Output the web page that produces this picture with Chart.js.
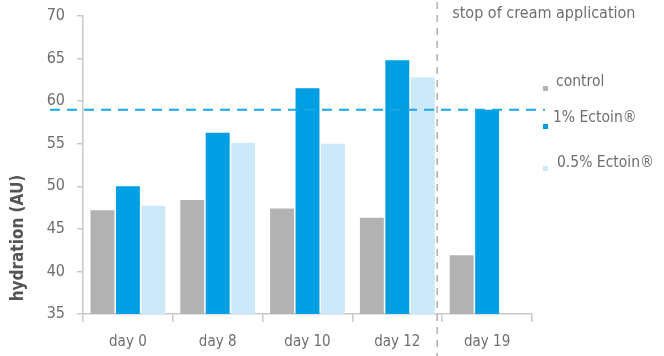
<!DOCTYPE html>
<html><head><meta charset="utf-8">
<script src="https://cdn.jsdelivr.net/npm/chart.js@4/dist/chart.umd.min.js"></script>
<style>html,body{margin:0;padding:0;background:#fff;}#wrap{width:664px;height:356px;}</style>
</head><body><div id="wrap"><canvas id="c" width="664" height="356"></canvas></div>
<script>
const categories = ["day 0", "day 8", "day 10", "day 12", "day 19"];
const controlValues = [47.2, 48.4, 47.4, 46.3, 41.9];
const ectoin1Values = [50.0, 56.3, 61.5, 64.8, 59.0];
const ectoin05Values = [47.7, 55.1, 55.0, 62.8, null];
const seriesNames = ["control", "1% Ectoin®", "0.5% Ectoin®"];
const yTicks = [35, 40, 45, 50, 55, 60, 65, 70];
const referenceLevel = 59;
const stopLabel = "stop of cream application";
const yTitle = "hydration (AU)";

const FONT = "'Liberation Sans Narrow', 'DejaVu Sans Condensed', 'Liberation Sans', sans-serif";
const colors = ["#b2b2b2", "#009fe3", "#cce9f9"];

const overlay = {
  id: "overlay",
  afterDraw(chart) {
    const ctx = chart.ctx, x = chart.scales.x, y = chart.scales.y;
    ctx.save();
    // horizontal dashed reference line
    const yl = y.getPixelForValue(referenceLevel);
    ctx.strokeStyle = "#1aa7e6"; ctx.lineWidth = 2; ctx.setLineDash([10, 7]);
    ctx.beginPath(); ctx.moveTo(50, yl); ctx.lineTo(545, yl); ctx.stroke();
    // vertical dashed line
    const xv = (x.getPixelForValue(3) + x.getPixelForValue(4)) / 2 - 5;
    ctx.strokeStyle = "#b0b0b0"; ctx.lineWidth = 1.5; ctx.setLineDash([7, 6]);
    ctx.beginPath(); ctx.moveTo(xv, 2); ctx.lineTo(xv, 356); ctx.stroke();
    ctx.setLineDash([]);
    // stop label
    ctx.fillStyle = "#6e6e6e"; ctx.font = "16px " + FONT;
    ctx.textBaseline = "middle"; ctx.textAlign = "left";
    ctx.fillText(stopLabel, xv + 15, 14);
    // legend
    ctx.font = "15.5px " + FONT;
    const ly = [82, 118, 163];
    const sq = [86, 124, 166];
    seriesNames.forEach((n, i) => {
      ctx.fillStyle = colors[i];
      ctx.fillRect(543, sq[i], 5, 5);
      ctx.fillStyle = "#6e6e6e";
      ctx.fillText(n, i === 0 ? 556 : (i === 1 ? 553 : 557), ly[i]);
    });
    // y title
    ctx.save();
    ctx.translate(19, 238); ctx.rotate(-Math.PI / 2);
    ctx.font = "bold 17px " + FONT; ctx.fillStyle = "#555"; ctx.textAlign = "center";
    ctx.fillText(yTitle, 0, 0);
    ctx.restore();
    ctx.restore();
  }
};

new Chart(document.getElementById("c"), {
  type: "bar",
  data: {
    labels: categories,
    datasets: [
      { label: seriesNames[0], data: controlValues, backgroundColor: colors[0] },
      { label: seriesNames[1], data: ectoin1Values, backgroundColor: colors[1] },
      { label: seriesNames[2], data: ectoin05Values, backgroundColor: colors[2] }
    ]
  },
  options: {
    responsive: false, animation: false,
    layout: { padding: { top: 16, right: 132, left: 0, bottom: 0 } },
    datasets: { bar: { categoryPercentage: 0.85, barPercentage: 0.94 } },
    plugins: { legend: { display: false }, tooltip: { enabled: false } },
    scales: {
      x: {
        offset: true,
        grid: { offset: true, drawOnChartArea: false, drawTicks: true, tickLength: 8, color: "#c8c8c8", lineWidth: 1.5 },
        border: { color: "#c8c8c8", width: 1.5 },
        ticks: { color: "#6e6e6e", font: { family: FONT, size: 15 }, padding: 11 },
        afterFit(s) { s.height = 42; }
      },
      y: {
        min: 35, max: 70,
        afterBuildTicks(s) { s.ticks = yTicks.map(v => ({ value: v })); },
        grid: { drawOnChartArea: false, drawTicks: true, tickLength: 6, color: "#c8c8c8", lineWidth: 1.5 },
        border: { color: "#c8c8c8", width: 1.5 },
        ticks: { color: "#6e6e6e", font: { family: FONT, size: 16 }, padding: 12 },
        afterFit(s) { s.width = 83; s.paddingTop = 0; s.paddingBottom = 0; }
      }
    }
  },
  plugins: [overlay]
});
</script></body></html>
